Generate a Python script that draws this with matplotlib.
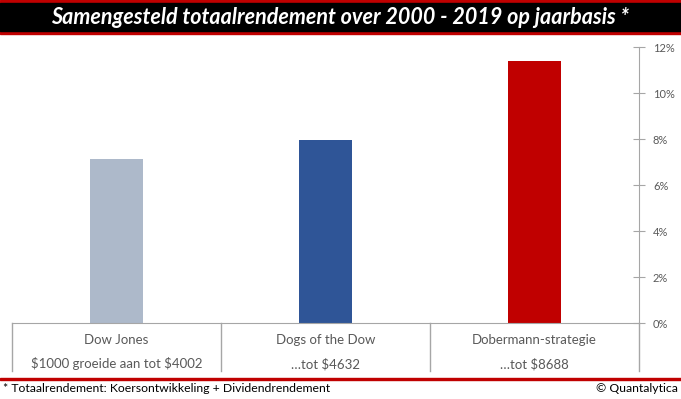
import matplotlib
matplotlib.use("Agg")
import matplotlib.pyplot as plt
from matplotlib.patches import Rectangle
from matplotlib.ticker import FuncFormatter
import matplotlib.transforms as mtransforms

# data
categories = ["Dow Jones", "Dogs of the Dow", "Dobermann-strategie"]
sublabels = ["$1000 groeide aan tot $4002", "…tot $4632", "…tot $8688"]
rendement = [7.13, 7.96, 11.39]
kleuren = ["#ADB9CA", "#2F5597", "#C00000"]

plt.rcParams["font.family"] = ["Lato", "DejaVu Sans"]
plt.rcParams["text.parse_math"] = False
W, H = 681, 399
fig = plt.figure(figsize=(W / 100, H / 100), dpi=100)

def fx(px):
    return px / W

def fy(py):
    return 1 - py / H

ax = fig.add_axes([fx(12), fy(323), fx(639) - fx(12), fy(47) - fy(323)])
x = list(range(len(categories)))
ax.bar(x, rendement, width=0.25, color=kleuren, zorder=2)
ax.set_xlim(-0.5, 2.5)
ax.set_ylim(0, 12)

grijs = "#A6A6A6"
for s in ["top", "left"]:
    ax.spines[s].set_visible(False)
ax.spines["bottom"].set_color(grijs)
ax.spines["right"].set_color(grijs)
ax.spines["right"].set_bounds(0, 12)
ax.yaxis.tick_right()
ax.set_yticks(range(0, 13, 2))
ax.yaxis.set_major_formatter(FuncFormatter(lambda v, p: "%d%%" % v))
ax.tick_params(axis="y", direction="inout", length=8, color=grijs,
               labelcolor="#595959", labelsize=8, pad=6)
ax.set_xticks([])

# categorie-vakken onder de as
trans = mtransforms.blended_transform_factory(ax.transData, ax.transAxes)
diep = -48 / 276
for b in [-0.5, 0.5, 1.5, 2.5]:
    ax.plot([b, b], [0, diep], color=grijs, lw=1, transform=trans, clip_on=False)
for i, (c, s) in enumerate(zip(categories, sublabels)):
    ax.text(i, -17 / 276, c, transform=trans, ha="center", va="center",
            fontsize=9.5, color="#595959")
    ax.text(i, -41 / 276, s, transform=trans, ha="center", va="center",
            fontsize=9.5, color="#595959")

# titelbalk
fig.add_artist(Rectangle((0, fy(34)), 1, fy(0) - fy(34), transform=fig.transFigure,
                         color="#C00000", zorder=0))
fig.add_artist(Rectangle((0, fy(31)), 1, fy(3) - fy(31), transform=fig.transFigure,
                         color="black", zorder=1))
fig.text(0.5, fy(17), "Samengesteld totaalrendement over 2000 - 2019 op jaarbasis *",
         ha="center", va="center", color="white", fontsize=15.5,
         fontweight="bold", fontstyle="italic")

# voetnoot
fig.add_artist(Rectangle((0, fy(380)), 1, 2 / H, transform=fig.transFigure,
                         color="#C00000"))
fig.text(fx(3), fy(389), "* Totaalrendement: Koersontwikkeling + Dividendrendement",
         ha="left", va="center", fontsize=8.8, color="black")
fig.text(fx(678), fy(389), "© Quantalytica", ha="right", va="center",
         fontsize=8.8, color="black")

fig.savefig("out.png", dpi=100)
